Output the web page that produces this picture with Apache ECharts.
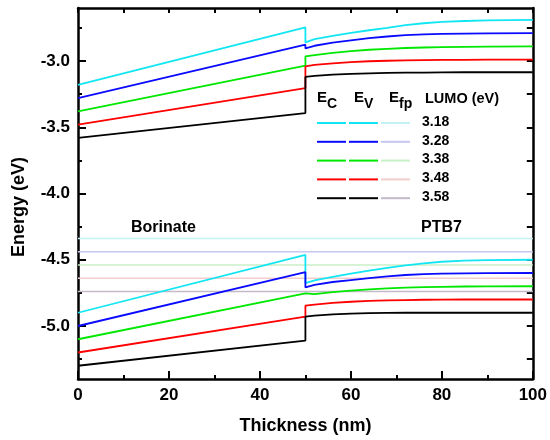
<!DOCTYPE html>
<html>
<head>
<meta charset="utf-8">
<script src="https://cdn.jsdelivr.net/npm/echarts@6/dist/echarts.min.js"></script>
<style>
  html, body { margin: 0; padding: 0; background: #fff; }
  #chart { width: 550px; height: 440px; }
</style>
</head>
<body>
<div id="chart"></div>
<script>
  // thickness positions (nm)
  const xBorinate = [0, 50];
  const xPTB7 = [50, 52, 56, 60, 64, 68, 72, 76, 80, 85, 90, 100];

  const lumo = ['3.18', '3.28', '3.38', '3.48', '3.58'];

  // conduction band, borinate side (x = 0, 50)
  const ecBorinate = [
    [-3.18, -2.747],
    [-3.28, -2.877],
    [-3.38, -3.035],
    [-3.48, -3.205],
    [-3.58, -3.393]
  ];
  // valence band, borinate side
  const evBorinate = [
    [-4.90, -4.464],
    [-5.00, -4.594],
    [-5.10, -4.754],
    [-5.20, -4.930],
    [-5.30, -5.110]
  ];
  // conduction band, PTB7 side
  const ecPTB7 = [
    [-2.860, -2.835, -2.810, -2.788, -2.768, -2.750, -2.730, -2.715, -2.705, -2.698, -2.693, -2.690],
    [-2.905, -2.885, -2.862, -2.845, -2.828, -2.815, -2.805, -2.799, -2.795, -2.793, -2.791, -2.790],
    [-2.965, -2.955, -2.938, -2.925, -2.915, -2.908, -2.902, -2.898, -2.895, -2.893, -2.891, -2.890],
    [-3.040, -3.030, -3.018, -3.008, -3.002, -2.998, -2.995, -2.993, -2.992, -2.991, -2.990, -2.990],
    [-3.120, -3.112, -3.103, -3.097, -3.093, -3.090, -3.088, -3.087, -3.086, -3.085, -3.085, -3.085]
  ];
  // valence band, PTB7 side
  const evPTB7 = [
    [-4.677, -4.655, -4.630, -4.605, -4.582, -4.562, -4.543, -4.527, -4.515, -4.507, -4.503, -4.500],
    [-4.709, -4.690, -4.668, -4.653, -4.638, -4.625, -4.615, -4.609, -4.605, -4.603, -4.601, -4.600],
    [-4.769, -4.760, -4.745, -4.733, -4.723, -4.716, -4.710, -4.707, -4.704, -4.702, -4.701, -4.700],
    [-4.847, -4.838, -4.826, -4.817, -4.811, -4.807, -4.804, -4.802, -4.801, -4.800, -4.800, -4.800],
    [-4.930, -4.922, -4.913, -4.907, -4.903, -4.901, -4.900, -4.900, -4.900, -4.900, -4.900, -4.900]
  ];
  // fermi levels
  const efp = [-4.34, -4.44, -4.54, -4.64, -4.74];

  const yLabels = [-5, -4.5, -4, -3.5, -3];
  const yMinor = [-5.25, -4.75, -4.25, -3.75, -3.25, -2.75];
  const yAll = [-5.25, -5, -4.75, -4.5, -4.25, -4, -3.75, -3.5, -3.25, -3, -2.75];

  const colors = ['#12e6f2', '#0a0aff', '#00e800', '#ff0000', '#000000'];
  const paleColors = ['#c4f1f4', '#c6c6f2', '#c8efc8', '#f3cccc', '#c2bac8'];

  const FONT = '"Liberation Sans", Arial, sans-serif';

  function band(xa, ya, xb, yb) {
    return xa.map((x, j) => [x, ya[j]]).concat(xb.map((x, j) => [x, yb[j]]));
  }

  const series = [];
  efp.forEach((v, i) => {
    series.push({
      type: 'line', name: 'Efp ' + lumo[i], showSymbol: false, silent: true,
      data: [[0, v], [100, v]],
      lineStyle: { color: paleColors[i], width: 1.6 }, z: 1
    });
  });
  lumo.forEach((l, i) => {
    series.push({
      type: 'line', name: 'EC ' + l, showSymbol: false,
      data: band(xBorinate, ecBorinate[i], xPTB7, ecPTB7[i]),
      lineStyle: { color: colors[i], width: 1.8 }, z: 3
    });
    series.push({
      type: 'line', name: 'EV ' + l, showSymbol: false,
      data: band(xBorinate, evBorinate[i], xPTB7, evPTB7[i]),
      lineStyle: { color: colors[i], width: 1.8 }, z: 3
    });
  });

  // legend block drawn by hand (3 sample columns + LUMO values)
  const graphic = [];
  const hdr = { fontFamily: FONT, fontWeight: 'bold', fill: '#000' };
  const heads = [['E', 'C', 317], ['E', 'V', 354], ['E', 'fp', 389]];
  heads.forEach(h => {
    graphic.push({ type: 'text', left: h[2], top: 90, style: Object.assign({ text: h[0], fontSize: 15 }, hdr) });
    graphic.push({ type: 'text', left: h[2] + 10, top: 97, style: Object.assign({ text: h[1], fontSize: 14 }, hdr) });
  });
  graphic.push({ type: 'text', left: 425, top: 91, style: Object.assign({ text: 'LUMO (eV)', fontSize: 14.5 }, hdr) });
  lumo.forEach((l, i) => {
    const y = 123 + i * 18.8;
    [[317, 346, colors[i]], [349, 378, colors[i]], [381, 410, paleColors[i]]].forEach(s => {
      graphic.push({ type: 'line', shape: { x1: s[0], y1: y, x2: s[1], y2: y }, style: { stroke: s[2], lineWidth: 2 } });
    });
    graphic.push({ type: 'text', left: 422, top: y - 8, style: Object.assign({ text: l, fontSize: 14 }, hdr) });
  });
  graphic.push({ type: 'text', left: 131, top: 220, style: Object.assign({ text: 'Borinate', fontSize: 16 }, hdr) });
  graphic.push({ type: 'text', left: 421, top: 220, style: Object.assign({ text: 'PTB7', fontSize: 16 }, hdr) });

  const axisLine = { onZero: false, lineStyle: { color: '#000', width: 2.5 } };
  const tickStyle = { color: '#000', width: 2 };
  const labelStyle = { color: '#000', fontFamily: FONT, fontWeight: 'bold', fontSize: 17 };

  const chart = echarts.init(document.getElementById('chart'));
  chart.setOption({
    backgroundColor: '#fff',
    animation: false,
    grid: { left: 78, right: 16, top: 8, bottom: 59, containLabel: false },
    xAxis: [
      {
        type: 'value', position: 'bottom', min: 0, max: 100, interval: 20,
        name: 'Thickness (nm)', nameLocation: 'middle', nameGap: 38,
        nameTextStyle: { color: '#000', fontFamily: FONT, fontWeight: 'bold', fontSize: 18 },
        axisLine: axisLine,
        axisTick: { inside: true, length: 8, lineStyle: tickStyle },
        minorTick: { show: true, splitNumber: 2, length: 4, lineStyle: tickStyle },
        axisLabel: Object.assign({ margin: 8 }, labelStyle),
        splitLine: { show: false }
      },
      {
        type: 'value', position: 'top', min: 0, max: 100, interval: 10,
        axisLine: axisLine,
        axisTick: { inside: true, length: 5, lineStyle: tickStyle },
        axisLabel: { show: false },
        splitLine: { show: false }
      }
    ],
    yAxis: [
      {
        type: 'value', position: 'left', min: -5.4, max: -2.6,
        name: 'Energy (eV)', nameLocation: 'middle', nameGap: 50,
        nameTextStyle: { color: '#000', fontFamily: FONT, fontWeight: 'bold', fontSize: 18, padding: [0, 27, 0, 0] },
        axisLine: axisLine,
        axisTick: { inside: true, length: 8, lineStyle: tickStyle, customValues: yLabels },
        axisLabel: Object.assign({ margin: 8, customValues: yLabels, formatter: v => v.toFixed(1) }, labelStyle),
        splitLine: { show: false }
      },
      {
        type: 'value', position: 'left', min: -5.4, max: -2.6,
        axisLine: { show: false, onZero: false },
        axisTick: { inside: true, length: 4, lineStyle: tickStyle, customValues: yMinor },
        axisLabel: { show: false },
        splitLine: { show: false }
      },
      {
        type: 'value', position: 'right', min: -5.4, max: -2.6,
        axisLine: axisLine,
        axisTick: { inside: true, length: 6, lineStyle: tickStyle, customValues: yAll },
        axisLabel: { show: false },
        splitLine: { show: false }
      }
    ],
    series: series,
    graphic: graphic
  });
</script>
</body>
</html>
